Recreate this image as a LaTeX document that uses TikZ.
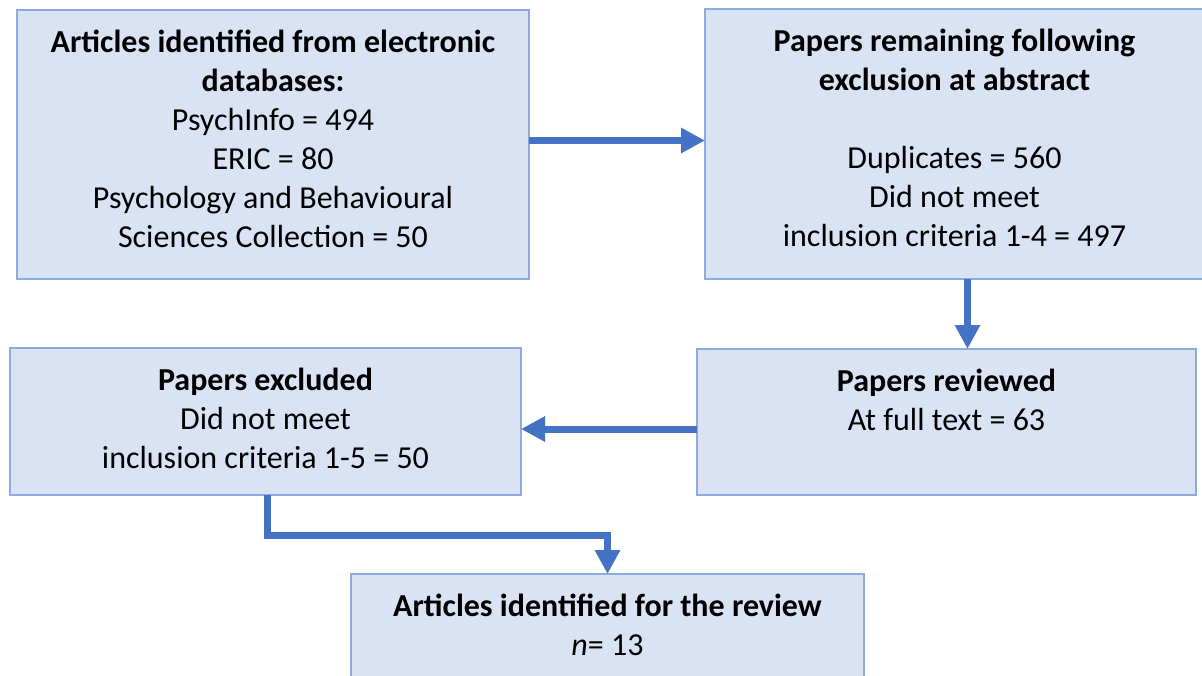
\documentclass[tikz,border=0pt]{standalone}
\usepackage{fontspec}
\setmainfont{Carlito}
\usetikzlibrary{arrows.meta}
\definecolor{boxfill}{HTML}{DAE3F3}
\definecolor{boxline}{HTML}{8FAADC}
\definecolor{flow}{HTML}{4472C4}
\newcommand{\firstline}{\rule{0pt}{26pt}}
\begin{document}
\begin{tikzpicture}[x=1pt,y=-1pt,
  stagebox/.style={draw=boxline, fill=boxfill, line width=2.5pt, inner sep=0pt,
    outer sep=0pt, anchor=north west},
  stagetext/.style={anchor=north, align=center, inner sep=0pt,
    font=\fontsize{32}{39}\selectfont},
  flowarrow/.style={draw=flow, line width=7pt, line join=miter,
    -{Triangle[length=24pt,width=24pt]}}]
\useasboundingbox (0,0) rectangle (1202,675);

% stage boxes
\node[stagebox, minimum width=512pt, minimum height=269pt] (a) at (17,10) {};
\node[stagebox, minimum width=499pt, minimum height=270pt] (b) at (705,9) {};
\node[stagebox, minimum width=499pt, minimum height=146pt] (c) at (697,349) {};
\node[stagebox, minimum width=511pt, minimum height=147pt] (d) at (10,348) {};
\node[stagebox, minimum width=513pt, minimum height=110pt] (e) at (351,574) {};

% box texts, first baseline 42pt below the top edge
\node[stagetext] (ta) at ([yshift=-16pt]a.north)
  {\firstline\textbf{Articles identified from electronic}\\
   \textbf{databases:}\\
   PsychInfo = 494\\
   ERIC = 80\\
   Psychology and Behavioural\\
   Sciences Collection = 50};
\node[stagetext] (tb) at ([yshift=-16pt]b.north)
  {\firstline\textbf{Papers remaining following}\\
   \textbf{exclusion at abstract}\\[39pt]
   Duplicates = 560\\
   Did not meet\\
   inclusion criteria 1-4 = 497};
\node[stagetext] (tc) at ([yshift=-16pt]c.north)
  {\firstline\textbf{Papers reviewed}\\
   At full text = 63};
\node[stagetext] (td) at ([yshift=-16pt]d.north)
  {\firstline\textbf{Papers excluded}\\
   Did not meet\\
   inclusion criteria 1-5 = 50};
\node[stagetext] (te) at ([yshift=-16pt]e.north)
  {\firstline\textbf{Articles identified for the review}\\
   \textit{n}= 13};

% flow arrows
\draw[flowarrow] ([yshift=4pt]a.east) -- ([yshift=4pt]a.east -| b.west);
\draw[flowarrow] ([xshift=13pt]b.south) -- ([xshift=13pt]b.south |- c.north);
\draw[flowarrow] ([yshift=-7pt]c.west) -- ([yshift=-7pt]c.west -| d.east);
\draw[flowarrow] ([xshift=1.5pt]d.south) -- ++(0,40) -| (e.north);
\end{tikzpicture}
\end{document}
